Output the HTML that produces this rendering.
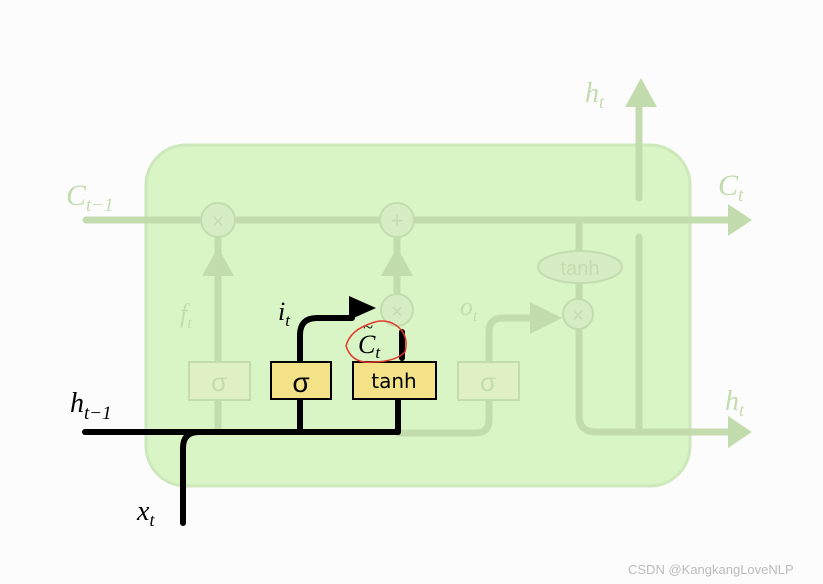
<!DOCTYPE html>
<html><head><meta charset="utf-8"><style>
html,body{margin:0;padding:0;background:#fcfcfc;width:823px;height:584px;overflow:hidden}
svg{display:block}
.it{font-family:"Liberation Serif",serif;font-style:italic}
</style></head><body>
<svg width="823" height="584" viewBox="0 0 823 584" xmlns="http://www.w3.org/2000/svg">
<rect width="823" height="584" fill="#fcfcfc"/>
<rect x="146" y="145" width="544" height="341" rx="40" fill="#d9f5c6" stroke="#cde8bb" stroke-width="3"/>
<g stroke="#c3dcae" stroke-width="7" fill="none" stroke-linecap="round">
<line x1="86" y1="220" x2="728" y2="220"/>
<line x1="639" y1="198" x2="639" y2="100"/>
<line x1="639" y1="237" x2="639" y2="428"/>
<line x1="579" y1="222" x2="579" y2="300"/>
<path d="M579 328 V415 Q579 432 596 432 H728"/>
<line x1="218" y1="238" x2="218" y2="430"/>
<line x1="397" y1="238" x2="397" y2="296"/>
<path d="M398 433 H475 Q489 433 489 420 V332 Q489 318 503 318 H535"/>
</g>
<g fill="#c3dcae">
<polygon points="728,204 752,220 728,236"/>
<polygon points="728,416 752,432 728,448"/>
<polygon points="625,107 641,78 657,107"/>
<polygon points="202,276 218,247 234,276"/>
<polygon points="381,276 397,247 413,276"/>
<polygon points="530,302 562,318 530,334"/>
</g>
<g fill="#d6edc4" stroke="#c3dcae" stroke-width="2">
<circle cx="218" cy="220" r="17"/><circle cx="397" cy="220" r="17"/>
<circle cx="397" cy="310" r="16"/><circle cx="578" cy="314" r="15"/>
<ellipse cx="580" cy="267" rx="42" ry="16"/>
<rect x="189" y="362" width="61" height="38" fill="#dff0c4"/>
<rect x="458" y="362" width="61" height="38" fill="#dff0c4"/>
</g>
<g font-family="Liberation Sans,sans-serif" fill="#c3dcae" text-anchor="middle">
<text x="218" y="228" font-size="20">×</text><text x="397" y="228" font-size="22">+</text>
<text x="397" y="318" font-size="20">×</text><text x="578" y="322" font-size="20">×</text>
<text x="580" y="275" font-size="20">tanh</text>
<text x="219" y="391" font-size="26">σ</text><text x="488" y="391" font-size="26">σ</text>
</g>
<g class="it" fill="#c3dcae">
<text x="66" y="205" font-size="30">C<tspan font-size="19" dy="6">t−1</tspan></text>
<text x="718" y="195" font-size="30">C<tspan font-size="19" dy="6">t</tspan></text>
<text x="585" y="102" font-size="28">h<tspan font-size="18" dy="6">t</tspan></text>
<text x="725" y="410" font-size="28">h<tspan font-size="18" dy="6">t</tspan></text>
<text x="180" y="322" font-size="26">f<tspan font-size="16" dy="6">t</tspan></text>
<text x="460" y="315" font-size="26">o<tspan font-size="16" dy="6">t</tspan></text>
</g>
<g stroke="#000" stroke-width="6" fill="none" stroke-linecap="round">
<line x1="85" y1="432" x2="398" y2="432"/>
<line x1="398" y1="432" x2="398" y2="398"/>
<line x1="300" y1="432" x2="300" y2="398"/>
<path d="M300 362 V335 Q300 318 317 318 H352"/>
<path d="M183 523 V448 Q183 432 199 432"/>
<line x1="402" y1="332" x2="402" y2="358"/>
</g>
<polygon points="349,296 376,308 349,320" fill="#000"/>
<rect x="271" y="362" width="60" height="37" fill="#f3e287" stroke="#000" stroke-width="2"/>
<rect x="353" y="362" width="83" height="37" fill="#f3e287" stroke="#000" stroke-width="2"/>
<text x="301" y="392" font-family="Liberation Sans,sans-serif" font-size="28" text-anchor="middle">σ</text>
<text x="394" y="388" font-family="DejaVu Sans,sans-serif" font-size="20" text-anchor="middle">tanh</text>
<g class="it" fill="#000">
<text x="70" y="412" font-size="28">h<tspan font-size="19" dy="7">t−1</tspan></text>
<text x="137" y="520" font-size="28">x<tspan font-size="18" dy="6">t</tspan></text>
<text x="278" y="320" font-size="26">i<tspan font-size="17" dy="6">t</tspan></text>
<text x="358" y="353" font-size="26">C<tspan font-size="17" dy="5">t</tspan></text>
<text x="363" y="333" font-size="18">~</text>
</g>
<path d="M372 323 Q350 330 346 346 Q352 364 372 362 Q395 362 405 352 Q410 332 392 323 Q382 319 372 323" fill="none" stroke="#e03a2a" stroke-width="1.5"/>
<text x="628" y="574" font-family="Liberation Sans,sans-serif" font-size="13" fill="#bbb">CSDN @KangkangLoveNLP</text>
</svg>
</body></html>
